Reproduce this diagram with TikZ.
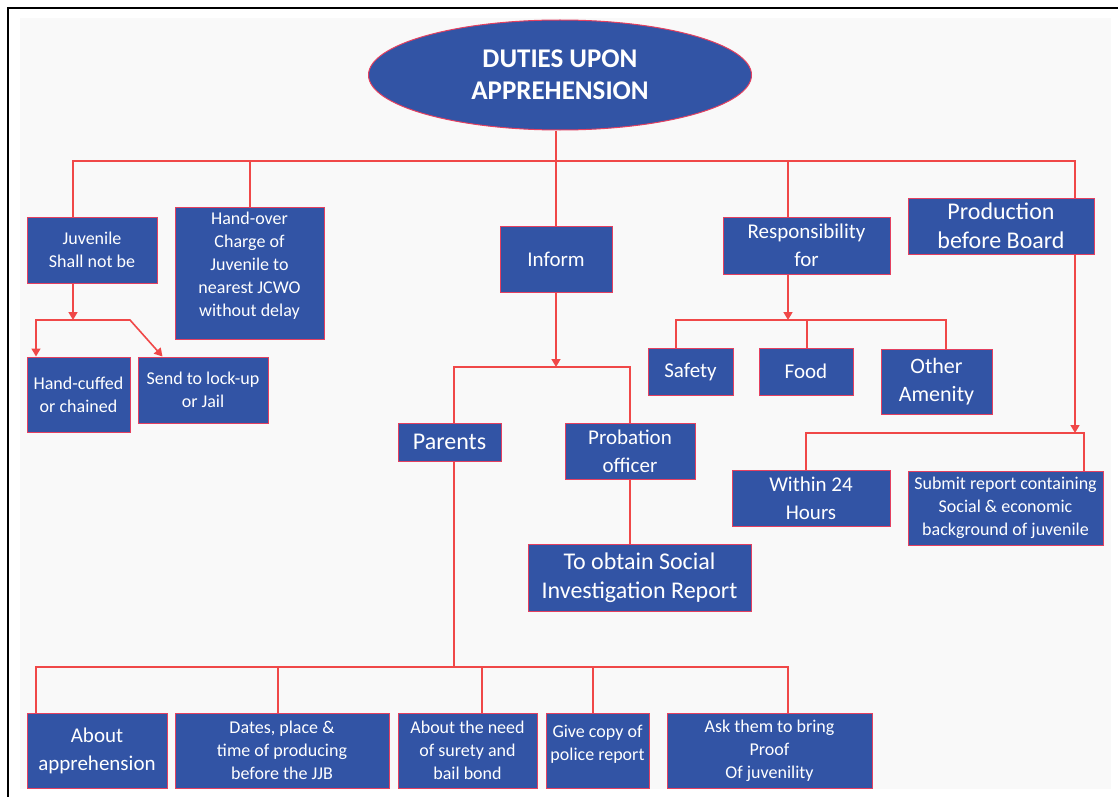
\documentclass[tikz,border=0pt]{standalone}
\usepackage{fontspec}
\setmainfont{Carlito}
\usetikzlibrary{arrows.meta, shapes.geometric}

\definecolor{boxblue}{RGB}{50,84,165}
\definecolor{boxedge}{RGB}{228,64,96}
\definecolor{linkred}{RGB}{240,72,72}
\definecolor{pagegray}{RGB}{249,249,249}

\newcommand{\smalltxt}{\fontsize{9}{11.5}\selectfont}
\newcommand{\midtxt}{\fontsize{10.5}{14}\selectfont}
\newcommand{\bigtxt}{\fontsize{12}{14.5}\selectfont}

\begin{document}
\begin{tikzpicture}[x=0.5pt, y=-0.5pt,
		box/.style={draw=boxedge, line width=0.5pt, fill=boxblue, text=white, align=center, inner sep=1pt},
		wh/.style 2 args={minimum width=#1*0.5pt, minimum height=#2*0.5pt},
		link/.style={draw=linkred, line width=0.8pt},
		tip/.style={-{Triangle[width=4.5pt,length=4pt]}}]
	
	\useasboundingbox (0,0) rectangle (1118,797);
	
	% page
	\fill[pagegray] (20,18) rectangle (1111,789);
	\draw[line width=1.2pt] (8,797) -- (8,8) -- (1118,8);
	
	% title
	\node[ellipse, draw=boxedge, line width=0.5pt, fill=boxblue, text=white, align=center, inner sep=0pt,
	wh={383}{110}, font=\fontsize{13.5}{16}\selectfont\bfseries] (title) at (560,75) {DUTIES UPON\\APPREHENSION};
	
	% first level
	\node[box, wh={130}{66}, font=\smalltxt] (juv) at (92,250) {Juvenile\\Shall not be};
	\node[box, wh={149}{132}, font=\smalltxt] (hand) at (249.5,273) {Hand-over\\Charge of\\Juvenile to\\nearest JCWO\\without delay\\[-2.5pt]\mbox{}};
	\node[box, wh={112}{66}, font=\midtxt] (inform) at (556,259) {Inform};
	\node[box, wh={167}{57}, font=\midtxt] (resp) at (806.5,245.5) {Responsibility\\for};
	\node[box, wh={186}{56}, font=\bigtxt] (prod) at (1001,226) {Production\\before Board};
	
	% second level
	\node[box, wh={103}{75}, font=\smalltxt] (hcuff) at (78.5,394.5) {Hand-cuffed\\or chained};
	\node[box, wh={130}{66}, font=\smalltxt] (lock) at (203,390) {Send to lock-up\\or Jail};
	\node[box, wh={103}{38}, font=\bigtxt] (parents) at (449.5,442) {Parents};
	\node[box, wh={130}{56}, font=\midtxt] (prob) at (630,451) {Probation\\officer};
	\node[box, wh={223}{67}, font=\bigtxt] (toobtain) at (639.5,577.5) {To obtain Social\\Investigation Report};
	\node[box, wh={85}{47}, font=\midtxt] (safety) at (690.5,371.5) {Safety};
	\node[box, wh={94}{47}, font=\midtxt] (food) at (806,371.5) {Food};
	\node[box, wh={111}{65}, font=\fontsize{11}{14}\selectfont] (other) at (936.5,381.5) {Other\\Amenity};
	\node[box, wh={158}{56}, font=\midtxt] (within) at (811,498) {Within 24\\Hours};
	\node[box, wh={195}{74}, font=\smalltxt] (submit) at (1005.5,508) {Submit report containing\\Social \& economic\\background of juvenile};
	
	% bottom row
	\node[box, wh={140}{75}, font=\midtxt] (about) at (97,750.5) {About\\apprehension};
	\node[box, wh={214}{75}, font=\smalltxt] (dates) at (282,750.5) {Dates, place \&\\time of producing\\before the JJB};
	\node[box, wh={139}{75}, font=\smalltxt] (need) at (467.5,750.5) {About the need\\of surety and\\bail bond};
	\node[box, wh={103}{75}, font=\smalltxt] (copy) at (597.5,750.5) {Give copy of\\police report\\[-4pt]\mbox{}};
	\node[box, wh={205}{75}, font=\smalltxt] (ask) at (769.5,750.5) {Ask them to bring\\Proof\\Of juvenility};
	
	% top bus
	\coordinate (tl) at (73,161);
	\coordinate (th) at (250,161);
	\coordinate (tm) at (788,161);
	\coordinate (tr) at (1075,161);
	\draw[link] (title.south -| inform.north) -- (inform.north);
	\draw[link] (juv.north -| tl) -- (tl) -- (tr) -- (prod.north -| tr);
	\draw[link] (th) -- (hand.north -| th);
	\draw[link] (tm) -- (resp.north -| tm);
	
	% juvenile shall not be
	\coordinate (jb) at (73,320);
	\coordinate (jl) at (36,320);
	\coordinate (jr) at (130,320);
	\draw[link, tip] (juv.south -| jb) -- (jb);
	\draw[link, tip] (jb) -- (jl) -- (hcuff.north -| jl);
	\draw[link, tip] (jb) -- (jr) -- ([xshift=12.5pt]lock.north west);
	
	% inform
	\coordinate (ib) at (556,367);
	\coordinate (bb) at (454,667);
	\draw[link, tip] (inform.south) -- (ib);
	\draw[link] (parents.north -| bb) |- (ib) -| (prob.north);
	\draw[link] (prob.south) -- (prob.south |- toobtain.north);
	\draw[link] (parents.south -| bb) -- (bb);
	
	% parents bus
	\coordinate (bl) at (36,667);
	\coordinate (br) at (788,667);
	\draw[link] (about.north -| bl) -- (bl) -- (br) -- (ask.north -| br);
	\foreach \x/\n in {278/dates, 482/need, 593/copy}
	\draw[link] (\x,667) -- (\n.north -| \x,667);
	
	% responsibility
	\coordinate (rb) at (788,320);
	\coordinate (rl) at (676,320);
	\coordinate (rr) at (946,320);
	\draw[link, tip] (resp.south -| rb) -- (rb);
	\draw[link] (safety.north -| rl) -- (rl) -- (rr) -- (other.north -| rr);
	\draw[link] (food.north -| 807,320) -- (807,320);
	
	% production
	\coordinate (pb) at (1075,433);
	\coordinate (pl) at (806,433);
	\coordinate (pr) at (1084,433);
	\draw[link, tip] (prod.south -| pb) -- (pb);
	\draw[link] (within.north -| pl) -- (pl) -- (pr) -- (submit.north -| pr);
\end{tikzpicture}
\end{document}
